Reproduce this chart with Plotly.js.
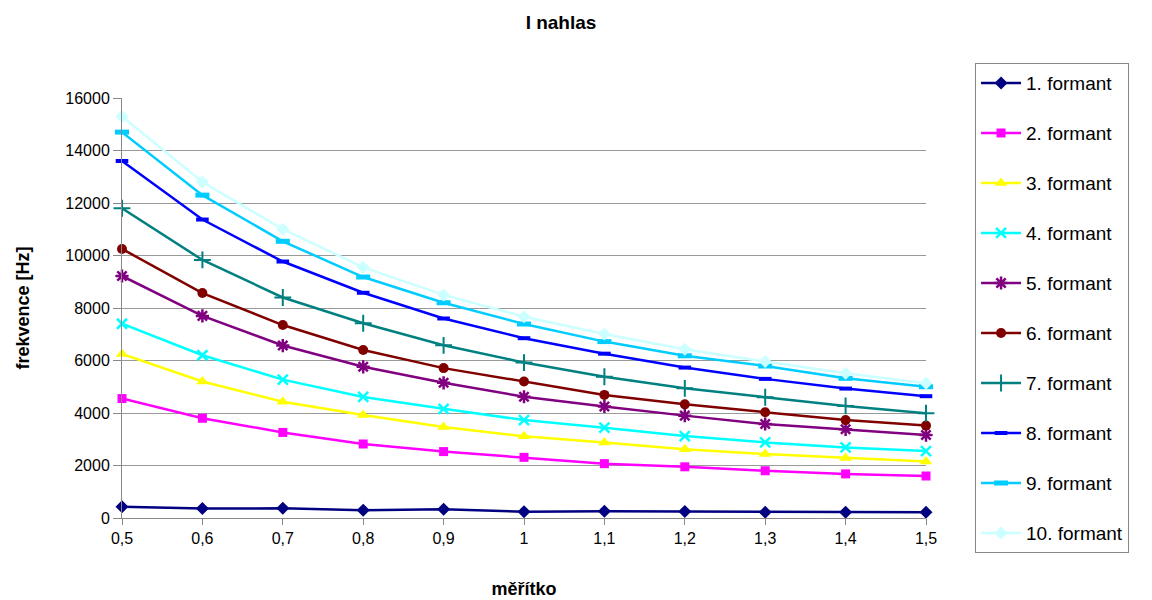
<!DOCTYPE html>
<html><head><meta charset="utf-8">
<script src="https://cdn.plot.ly/plotly-3.0.1.min.js"></script>
<style>html,body{margin:0;padding:0;background:#fff}#chart{width:1152px;height:600px}</style>
</head><body><div id="chart"></div>
<script>
const scales = [0.5,0.6,0.7,0.8,0.9,1.0,1.1,1.2,1.3,1.4,1.5];
const scaleLabels = ["0,5","0,6","0,7","0,8","0,9","1","1,1","1,2","1,3","1,4","1,5"];
const names = ["1. formant","2. formant","3. formant","4. formant","5. formant","6. formant","7. formant","8. formant","9. formant","10. formant"];
const f1  = [430,360,370,300,330,240,260,250,220,220,220];
const f2  = [4550,3800,3260,2820,2530,2310,2070,1950,1800,1680,1600];
const f3  = [6250,5200,4430,3920,3470,3110,2880,2620,2440,2290,2150];
const f4  = [7400,6200,5270,4610,4160,3730,3440,3120,2880,2690,2550];
const f5  = [9220,7700,6570,5760,5150,4620,4250,3900,3580,3380,3160];
const f6  = [10250,8570,7350,6400,5710,5200,4690,4330,4030,3730,3520];
const f7  = [11800,9830,8400,7420,6580,5920,5380,4940,4600,4270,3990];
const f8  = [13600,11370,9770,8580,7600,6850,6260,5730,5300,4930,4640];
const f9  = [14700,12300,10540,9180,8200,7390,6720,6180,5790,5320,5000];
const f10 = [15300,12800,11000,9550,8500,7670,7010,6430,5960,5510,5130];
const yTicks = [0,2000,4000,6000,8000,10000,12000,14000,16000];

const series = [f1,f2,f3,f4,f5,f6,f7,f8,f9,f10];
const colors = ["#000080","#FF00FF","#FFFF00","#00FFFF","#800080","#800000","#008080","#0000FF","#00CCFF","#CCFFFF"];
const markers = [
  {symbol:"diamond", size:10},
  {symbol:"square", size:9},
  {symbol:"triangle-up", size:11},
  {symbol:"x-thin-open", size:10, line:{width:2.5}},
  {symbol:"asterisk-open", size:11, line:{width:2.5}},
  {symbol:"circle", size:10},
  {symbol:"cross-thin-open", size:12, line:{width:2}},
  {symbol:"line-ew-open", size:9, line:{width:4}},
  {symbol:"line-ew-open", size:10, line:{width:5}},
  {symbol:"diamond", size:10}
];

const traces = series.map((ys,i)=>{
  const m = Object.assign({color:colors[i]}, markers[i]);
  if (m.line) m.line = Object.assign({color:colors[i]}, m.line);
  return {
    x: scales, y: ys, name: names[i], type:"scatter", mode:"lines+markers",
    line:{color:colors[i], width:2.5}, marker:m, cliponaxis:false,
    legendgroup:"g"+i
  };
});

const font = {family:"Liberation Sans, Arial, sans-serif", color:"#000"};
const layout = {
  width:1152, height:600,
  margin:{l:122, r:226, t:98, b:82},
  paper_bgcolor:"#fff", plot_bgcolor:"#fff",
  font:Object.assign({size:16}, font),
  title:{text:"<b>I nahlas</b>", x:0.487, xanchor:"center", y:0.963, yanchor:"middle", font:Object.assign({size:19}, font)},
  xaxis:{
    range:[0.5,1.5], tickvals:scales, ticktext:scaleLabels,
    showgrid:false, zeroline:false, showline:true, linecolor:"#888", linewidth:1,
    ticks:"outside", ticklen:6, tickcolor:"#888",
    tickfont:Object.assign({size:16}, font),
    title:{text:"<b>měřítko</b>", font:Object.assign({size:18}, font), standoff:36}
  },
  yaxis:{
    range:[0,16000], tickvals:yTicks, ticktext:yTicks.map(String),
    showgrid:true, gridcolor:"#999", gridwidth:1,
    zeroline:false, showline:true, linecolor:"#888", linewidth:1,
    ticks:"outside", ticklen:8, tickcolor:"#888",
    tickfont:Object.assign({size:16}, font),
    title:{text:"<b>frekvence [Hz]</b>", font:Object.assign({size:18}, font), standoff:30}
  },
  legend:{
    x:1.061, xanchor:"left", y:1.083, yanchor:"top",
    bordercolor:"#888", borderwidth:1, bgcolor:"#fff",
    font:Object.assign({size:19}, font),
    traceorder:"grouped", tracegroupgap:22.3, itemwidth:40,
    maxheight:580
  },
  showlegend:true
};
Plotly.newPlot("chart", traces, layout, {displayModeBar:false, staticPlot:true});
</script></body></html>
